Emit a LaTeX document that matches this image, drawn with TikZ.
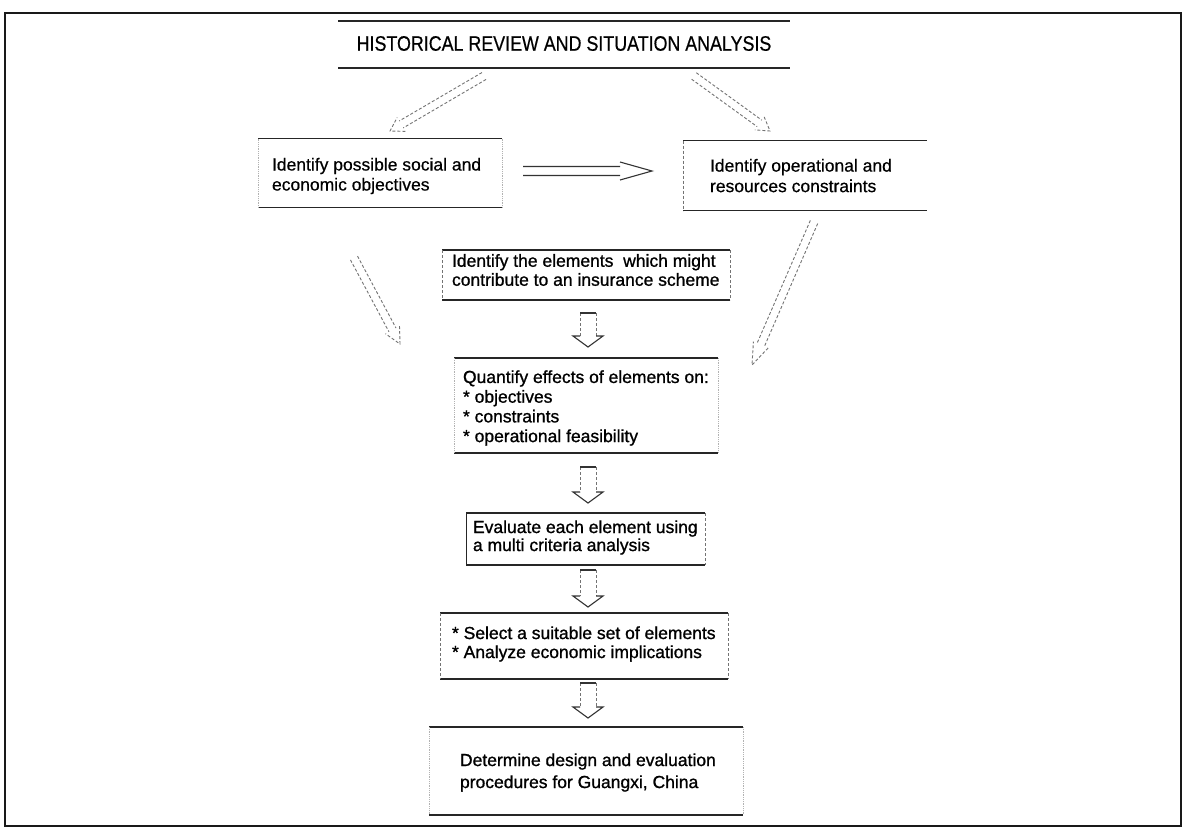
\documentclass[tikz,border=0pt]{standalone}
\usepackage{fontspec}
\setmainfont{Liberation Sans}
\newfontfamily\titlefnt[FakeStretch=0.85,FakeBold=0.5]{Liberation Sans}
\newfontfamily\upfnt[FakeBold=0.5]{Liberation Sans}
\newfontfamily\lowfnt[FakeBold=1.0]{Liberation Sans}
\usetikzlibrary{calc}
% double-line open arrow: [style]{from}{to}{half gap}{head length}{head half width}
\newcommand{\dblarr}[6][]{%
  \draw[#1] ($(#2)!#4!90:(#3)$) -- ($($(#3)!#5!(#2)$)!#4!90:(#3)$)
            ($(#2)!#4!-90:(#3)$) -- ($($(#3)!#5!(#2)$)!#4!-90:(#3)$)
            ($($(#3)!#5!(#2)$)!#6!90:(#3)$) -- (#3) -- ($($(#3)!#5!(#2)$)!#6!-90:(#3)$);}
% hollow vertical block arrow from top centre to tip
\newcommand{\blkarr}[2]{%
  \draw[boxside] ($(#1)+(-8,0)$) -- ($(#2)+(-8,-11)$) ($(#1)+(8,0)$) -- ($(#2)+(8,-11)$);
  \draw[arrline] ($(#1)+(-8,0)$) -- ($(#1)+(8,0)$);
  \draw[arrline] ($(#2)+(-8,-11)$) -- ($(#2)+(-15,-11)$) -- (#2) -- ($(#2)+(15,-11)$) -- ($(#2)+(8,-11)$);}
\newcommand{\boxtb}[1]{\draw[boxline] (#1.north west) -- (#1.north east) (#1.south west) -- (#1.south east);}
\newcommand{\boxsd}[2][boxside]{\draw[#1] (#2.north west) -- (#2.south west) (#2.north east) -- (#2.south east);}
\begin{document}
\begin{tikzpicture}[x=1pt,y=-1pt,
  bx/.style={rectangle, inner sep=0pt, outer sep=0pt, draw=none},
  boxline/.style={line width=1.3pt, black!85},
  boxside/.style={line width=0.9pt, black!55, densely dashed},
  faintside/.style={line width=0.8pt, black!30, densely dotted},
  arrline/.style={line width=1.1pt, black!80},
  diag/.style={line width=0.9pt, black!55, densely dashed},
  txt/.style={inner sep=0pt, outer sep=0pt, anchor=west, align=left}]
\useasboundingbox (0,0) rectangle (1182,831);
\fill[white] (0,0) rectangle (1182,831);
% outer frame
\draw[line width=2pt, black!90] (5,13) rectangle (1181,826);

% boxes
\node[bx, minimum width=452pt, minimum height=47pt] (titlebox) at (564,44.5) {};
\node[bx, minimum width=244pt, minimum height=69pt] (obj) at (380,173) {};
\node[bx, minimum width=244pt, minimum height=70pt] (con) at (805,175.5) {};
\node[bx, minimum width=288pt, minimum height=50pt] (elem) at (586,275) {};
\node[bx, minimum width=264pt, minimum height=95pt] (quant) at (586,405.5) {};
\node[bx, minimum width=239pt, minimum height=52pt] (eval) at (585.5,539) {};
\node[bx, minimum width=288pt, minimum height=66pt] (sel) at (584,646) {};
\node[bx, minimum width=314pt, minimum height=88pt] (det) at (586,771) {};

\boxtb{titlebox}
\boxtb{obj} \boxsd[faintside]{obj}
\boxtb{con} \draw[boxside] (con.north west) -- (con.south west);
\boxtb{elem} \boxsd{elem}
\boxtb{quant} \boxsd[faintside]{quant}
\boxtb{eval} \draw[boxline, line width=1pt] (eval.north west) -- (eval.south west);
  \draw[boxside] (eval.north east) -- (eval.south east);
\boxtb{sel} \boxsd{sel}
\boxtb{det} \boxsd[faintside]{det}

% texts
\node[inner sep=0pt, font=\titlefnt\fontsize{21}{24}\selectfont] (titletxt) at (564,43.5) {HISTORICAL REVIEW AND SITUATION ANALYSIS};
\node[txt, font=\upfnt\fontsize{17.5}{20}\selectfont] (objt) at (272,176) {Identify possible social and\\economic objectives};
\node[txt, font=\upfnt\fontsize{17.5}{20.5}\selectfont] (cont) at (710,175.6) {Identify operational and\\resources constraints};
\node[txt, font=\lowfnt\fontsize{17.5}{19}\selectfont] (elemt) at (452,270) {Identify the elements\ \ which might\\contribute to an insurance scheme};
\node[txt, font=\lowfnt\fontsize{17.5}{19.7}\selectfont] (quantt) at (463,408) {Quantify effects of elements on:\\* objectives\\* constraints\\* operational feasibility};
\node[txt, font=\lowfnt\fontsize{17.5}{18}\selectfont] (evalt) at (473,537.5) {Evaluate each element using\\a multi criteria analysis};
\node[txt, font=\lowfnt\fontsize{17.5}{19}\selectfont] (selt) at (452,644) {* Select a suitable set of elements\\* Analyze economic implications};
\node[txt, font=\lowfnt\fontsize{17.5}{22}\selectfont] (dett) at (460,772.5) {Determine design and evaluation\\procedures for Guangxi, China};

% double-line arrows
\coordinate (h1) at (523,171);
\coordinate (h2) at (652,171);
\dblarr[line width=1.1pt, black!80]{h1}{h2}{4.5pt}{32pt}{9pt}
\coordinate (ul1) at (484,76);
\coordinate (ul2) at (390,131);
\dblarr[diag]{ul1}{ul2}{4pt}{13pt}{8pt}
\coordinate (ur1) at (694,76);
\coordinate (ur2) at (770,131);
\dblarr[diag]{ur1}{ur2}{4pt}{13pt}{8pt}
\coordinate (ll1) at (354,258);
\coordinate (ll2) at (400,344);
\dblarr[diag]{ll1}{ll2}{4pt}{16pt}{8pt}
\coordinate (lr1) at (814,222);
\coordinate (lr2) at (752,365);
\dblarr[diag]{lr1}{lr2}{4pt}{22pt}{8pt}

% block arrows
\coordinate (a1s) at (588,313); \coordinate (a1e) at (588,347);
\blkarr{a1s}{a1e}
\coordinate (a2s) at (588,467); \coordinate (a2e) at (588,503);
\blkarr{a2s}{a2e}
\coordinate (a3s) at (588,570); \coordinate (a3e) at (588,607);
\blkarr{a3s}{a3e}
\coordinate (a4s) at (588,683); \coordinate (a4e) at (588,718);
\blkarr{a4s}{a4e}
\end{tikzpicture}
\end{document}
